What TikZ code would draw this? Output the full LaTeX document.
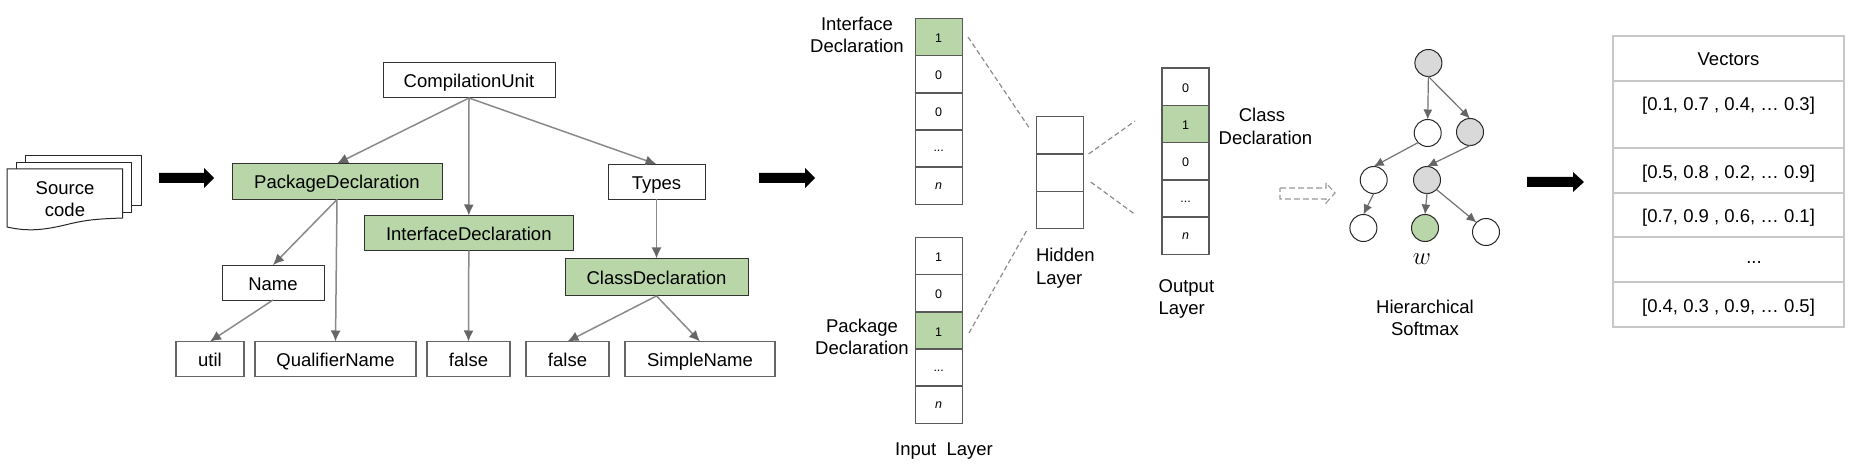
\documentclass[tikz,border=0pt]{standalone}
\usepackage{fontspec}
\setmainfont{Liberation Sans}
\usetikzlibrary{arrows.meta,shapes.geometric}
\definecolor{gfill}{HTML}{B9D6A9}
\definecolor{gnode}{HTML}{D9D9D9}
\definecolor{edgeg}{HTML}{8A8A8A}
\newcommand{\fs}{\fontsize{18.5}{22.5}\selectfont}
\newcommand{\blockarrow}[5][black]{%
  \fill[#1] (#2,#5-5) -- (#4,#5-5) -- (#4,#5-10) -- (#3,#5) -- (#4,#5+10) -- (#4,#5+5) -- (#2,#5+5) -- cycle;}
\tikzset{
  x=1pt,y=-1pt,
  every node/.style={inner sep=0pt,outer sep=0pt,font=\fs},
  ast/.style={draw=black!80,line width=1pt,rectangle,minimum height=35,text height=15,text depth=0},
  leaf/.style={draw=black!60,line width=1.3pt,rectangle,minimum height=35,text height=15,text depth=0},
  sel/.style={draw=black!80,line width=1pt,rectangle,fill=gfill,minimum height=36,text height=15,text depth=0},
  astedge/.style={draw=edgeg,line width=1.5pt,-{Latex[length=11pt,width=10pt,color=black!60]}},
  cell/.style={draw=black!65,line width=1.4pt,rectangle,minimum width=47,minimum height=37.2,font=\fontsize{12.5}{14}\selectfont,text height=11,text depth=0},
  lowcell/.style={cell,text height=7},
  hcell/.style={cell,minimum height=37.4},
  oncell/.style={fill=gfill},
  lab/.style={align=center},
  dashg/.style={draw=black!45,line width=1.2pt,dash pattern=on 5pt off 3pt},
  tn/.style={draw=black!85,line width=1pt,ellipse,minimum width=27,minimum height=27,fill=white},
  tgray/.style={tn,fill=gnode},
  tgreen/.style={tn,fill=gfill},
  tedge/.style={draw=black!55,line width=1.2pt,-{Latex[length=10pt,width=9pt,color=black!60]}},
  row/.style={draw=black!22,line width=1.3pt,rectangle,minimum width=231,fill=white}
}
\begin{document}
\begin{tikzpicture}
\useasboundingbox (0,0) rectangle (1856,468);
\fill[white] (0,0) rectangle (1856,468);
% source stack
\draw[line width=1pt,black!85,fill=white] (25,156) rectangle (141,205);
\draw[line width=1pt,black!85,fill=white] (16,162.5) rectangle (131,212);
\draw[line width=1pt,black!85,fill=white] (7,169) -- (122.5,169) -- (122.5,218)
  .. controls (95,219) and (85,220) .. (65,225) .. controls (40,231) and (25,231) .. (7,227) -- cycle;
\node[lab] (src) at (65,199) {Source\\code};
\blockarrow{159}{214}{204}{178}
% AST
\node[ast,minimum width=172] (cu) at (469,80.5) {CompilationUnit};
\node[sel,minimum width=210] (pd) at (337,181.5) {PackageDeclaration};
\node[sel,minimum width=209,minimum height=35] (id) at (468.8,233) {InterfaceDeclaration};
\node[ast,minimum width=97] (ty) at (656.5,181.7) {Types};
\node[sel,minimum width=183,minimum height=37.5] (cd) at (656.5,277.2) {ClassDeclaration};
\node[ast,minimum width=102] (nm) at (273,282.5) {Name};
\node[leaf,minimum width=68] (ut) at (210,359) {util};
\node[leaf,minimum width=161] (qn) at (335.5,359) {QualifierName};
\node[leaf,minimum width=83] (f1) at (468.5,359) {false};
\node[leaf,minimum width=83] (f2) at (567.5,359) {false};
\node[leaf,minimum width=150] (sn) at (700,359) {SimpleName};
\draw[astedge] (cu.south) -- (pd.north);
\draw[astedge] (cu.south) -- (id.north);
\draw[astedge] (cu.south) -- (ty.north);
\draw[astedge] (pd.south) -- (nm.north);
\draw[astedge] (pd.south) -- (qn.north);
\draw[astedge] (nm.south) -- (ut.north);
\draw[astedge] (id.south) -- (f1.north);
\draw[astedge] (ty.south) -- (cd.north);
\draw[astedge] (cd.south) -- (f2.north);
\draw[astedge] (cd.south) -- (sn.north);
\blockarrow{759}{815}{805}{178}
% input 1
\node[cell,oncell] (a1) at (938.7,37.2) {1};
\node[cell] (a2) at (938.7,74.4) {0};
\node[cell] (a3) at (938.7,111.4) {0};
\node[lowcell] (a4) at (938.7,148.5) {...};
\node[lowcell] (a5) at (938.7,185.6) {\textit{n}};
% input 2
\node[cell] (b1) at (938.7,256) {1};
\node[cell] (b2) at (938.7,293.2) {0};
\node[cell,oncell] (b3) at (938.7,330.5) {1};
\node[lowcell] (b4) at (938.7,367.5) {...};
\node[lowcell] (b5) at (938.7,405) {\textit{n}};
% hidden
\node[hcell] (h1) at (1060,135.4) {};
\node[hcell] (h2) at (1060,172.6) {};
\node[hcell] (h3) at (1060,210) {};
% output
\node[cell] (o1) at (1185.5,86.8) {0};
\node[cell,oncell] (o2) at (1185.5,124) {1};
\node[cell] (o3) at (1185.5,161.3) {0};
\node[lowcell] (o4) at (1185.5,198.5) {...};
\node[lowcell] (o5) at (1185.5,235.8) {\textit{n}};
% dashes
\coordinate (d1a) at (968,37); \coordinate (d1b) at (1030,129);
\coordinate (d2a) at (969,333); \coordinate (d2b) at (1027.6,229);
\coordinate (d3a) at (1088.6,154); \coordinate (d3b) at (1135,121);
\coordinate (d4a) at (1090.7,182); \coordinate (d4b) at (1134.5,214);
\draw[dashg] (d1a) -- (d1b);
\draw[dashg] (d2a) -- (d2b);
\draw[dashg] (d3a) -- (d3b);
\draw[dashg] (d4a) -- (d4b);
% labels
\node[lab] (li) at (857,35) {Interface\\Declaration};
\node[lab] (lp) at (862,337) {Package\\Declaration};
\node (lc1) at (1262,115) {Class};
\node (lc2) at (1265.5,138) {Declaration};
\node[align=left,anchor=west] (lh) at (1036,268.4) {Hidden\\Layer};
\node[align=left,anchor=west] (lo) at (1158.6,299) {Output\\Layer};
\node (linp) at (944,451.5) {Input\ \ Layer};
% dashed block arrow
\draw[black!40,line width=1.1pt,dash pattern=on 6pt off 3pt]
  (1280,188) -- (1326,188) -- (1326,183) -- (1335,193) -- (1326,203) -- (1326,199) -- (1280,199) -- cycle;
% softmax tree
\node[tgray] (t0) at (1428.4,63) {};
\node[tn] (t1) at (1427.7,133) {};
\node[tgray] (t2) at (1470,132) {};
\node[tn] (t3) at (1373.7,180) {};
\node[tgray] (t4) at (1427,180) {};
\node[tn] (t5) at (1363.4,228) {};
\node[tgreen] (t6) at (1425,228) {};
\node[tn] (t7) at (1486,232) {};
\draw[tedge] (t0.south) -- (t1.north);
\draw[tedge] (t0.south) -- (t2.north);
\draw[tedge] (t1.south west) -- (t3.north);
\draw[tedge] (t2.south) -- (t4.north);
\draw[tedge] (t3.south) -- (t5.north);
\draw[tedge] (t4.south) -- (t6.north);
\draw[tedge] (t4.south east) -- (t7.north west);
\node[font=\fontsize{23}{25}\selectfont] (wl) at (1422,259) {$w$};
\node[lab] (hs) at (1425,318) {Hierarchical\\Softmax};
\blockarrow{1527}{1584}{1573}{182}
% table
\node[row,minimum height=45] (r0) at (1728.5,58.5) {};
\node[row,minimum height=67] (r1) at (1728.5,114.5) {};
\node[row,minimum height=45] (r2) at (1728.5,170.5) {};
\node[row,minimum height=44] (r3) at (1728.5,215) {};
\node[row,minimum height=45] (r4) at (1728.5,259.5) {};
\node[row,minimum height=45] (r5) at (1728.5,304.5) {};
\node (v0) at (1728.5,59) {Vectors};
\node (v1) at (1728.5,105.4) {[0.1, 0.7 , 0.4, … 0.3]};
\node (v2) at (1728.5,173.4) {[0.5, 0.8 , 0.2, … 0.9]};
\node (v3) at (1728.5,218) {[0.7, 0.9 , 0.6, … 0.1]};
\node (v4) at (1754,263) {...};
\node (v5) at (1728.5,307.4) {[0.4, 0.3 , 0.9, … 0.5]};
\end{tikzpicture}
\end{document}
